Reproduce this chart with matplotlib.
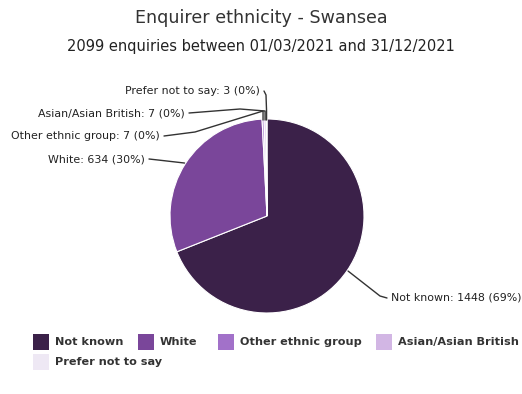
import matplotlib
matplotlib.use("Agg")
import matplotlib.pyplot as plt
from matplotlib.patches import Rectangle
import numpy as np

categories = ["Not known", "White", "Other ethnic group", "Asian/Asian British", "Prefer not to say"]
values = [1448, 634, 7, 7, 3]
percents = [69, 30, 0, 0, 0]
colors = ["#3b2149", "#7a469a", "#a271c9", "#d2b6e4", "#eee8f4"]
title = "Enquirer ethnicity - Swansea"
subtitle = "2099 enquiries between 01/03/2021 and 31/12/2021"

W, H = 522, 394
fig = plt.figure(figsize=(W / 100, H / 100), dpi=100)
ax = fig.add_axes([0, 0, 1, 1])
cx, cy, R = 267, H - 216, 97

wedges, _ = ax.pie(values, colors=colors, startangle=90, counterclock=False,
                   center=(cx, cy), radius=R, frame=False,
                   wedgeprops=dict(linewidth=0.8, edgecolor="white"))
ax.set_xlim(0, W)
ax.set_ylim(0, H)
ax.set_aspect("equal")
ax.axis("off")

fig.text(0.5, 1 - 18 / H, title, ha="center", va="center", fontsize=12.6, color="#333333")
fig.text(0.5, 1 - 47 / H, subtitle, ha="center", va="center", fontsize=10.5, color="#222222")

# label layout (pixel positions of label anchor), top-down image coordinates
label_pos = [(391, 298, "left"), (145, 159, "right"), (160, 136, "right"),
             (185, 113, "right"), (260, 91, "right")]
elbow = [(380, 296), (158, 160), (195, 132), (240, 109), (266, 95)]
small = ("Other ethnic group", "Asian/Asian British", "Prefer not to say")
for w, cat, v, p, (lx, ly, ha), (ex, ey) in zip(wedges, categories, values, percents, label_pos, elbow):
    mid = np.deg2rad((w.theta1 + w.theta2) / 2)
    px = cx + (R + 1) * np.cos(mid)
    py = cy + (R + 1) * np.sin(mid)
    sx = lx + (-4 if ha == "left" else 4)
    xs = [sx, ex, px]
    ys = [H - ly, H - ey, py]
    if cat in small:
        xs = [sx, ex, px, px]
        ys = [H - ly, H - ey, cy + R + 8, cy + R - 1]
    ax.plot(xs, ys, color="#333333", lw=1.0, solid_capstyle="round")
    ax.text(lx, H - ly, f"{cat}: {v} ({p}%)", ha=ha, va="center", fontsize=7.9, color="#222222")

# legend
leg_items = [(33, 342), (138, 342), (218, 342), (376, 342), (33, 362)]
for (lx, ly), cat, c in zip(leg_items, categories, colors):
    ax.add_patch(Rectangle((lx, H - ly - 8), 16, 16, facecolor=c, edgecolor="none"))
    ax.text(lx + 22, H - ly, cat, ha="left", va="center", fontsize=8.1,
            fontweight="bold", color="#333333")

fig.savefig("out.png", dpi=100, facecolor="white")
